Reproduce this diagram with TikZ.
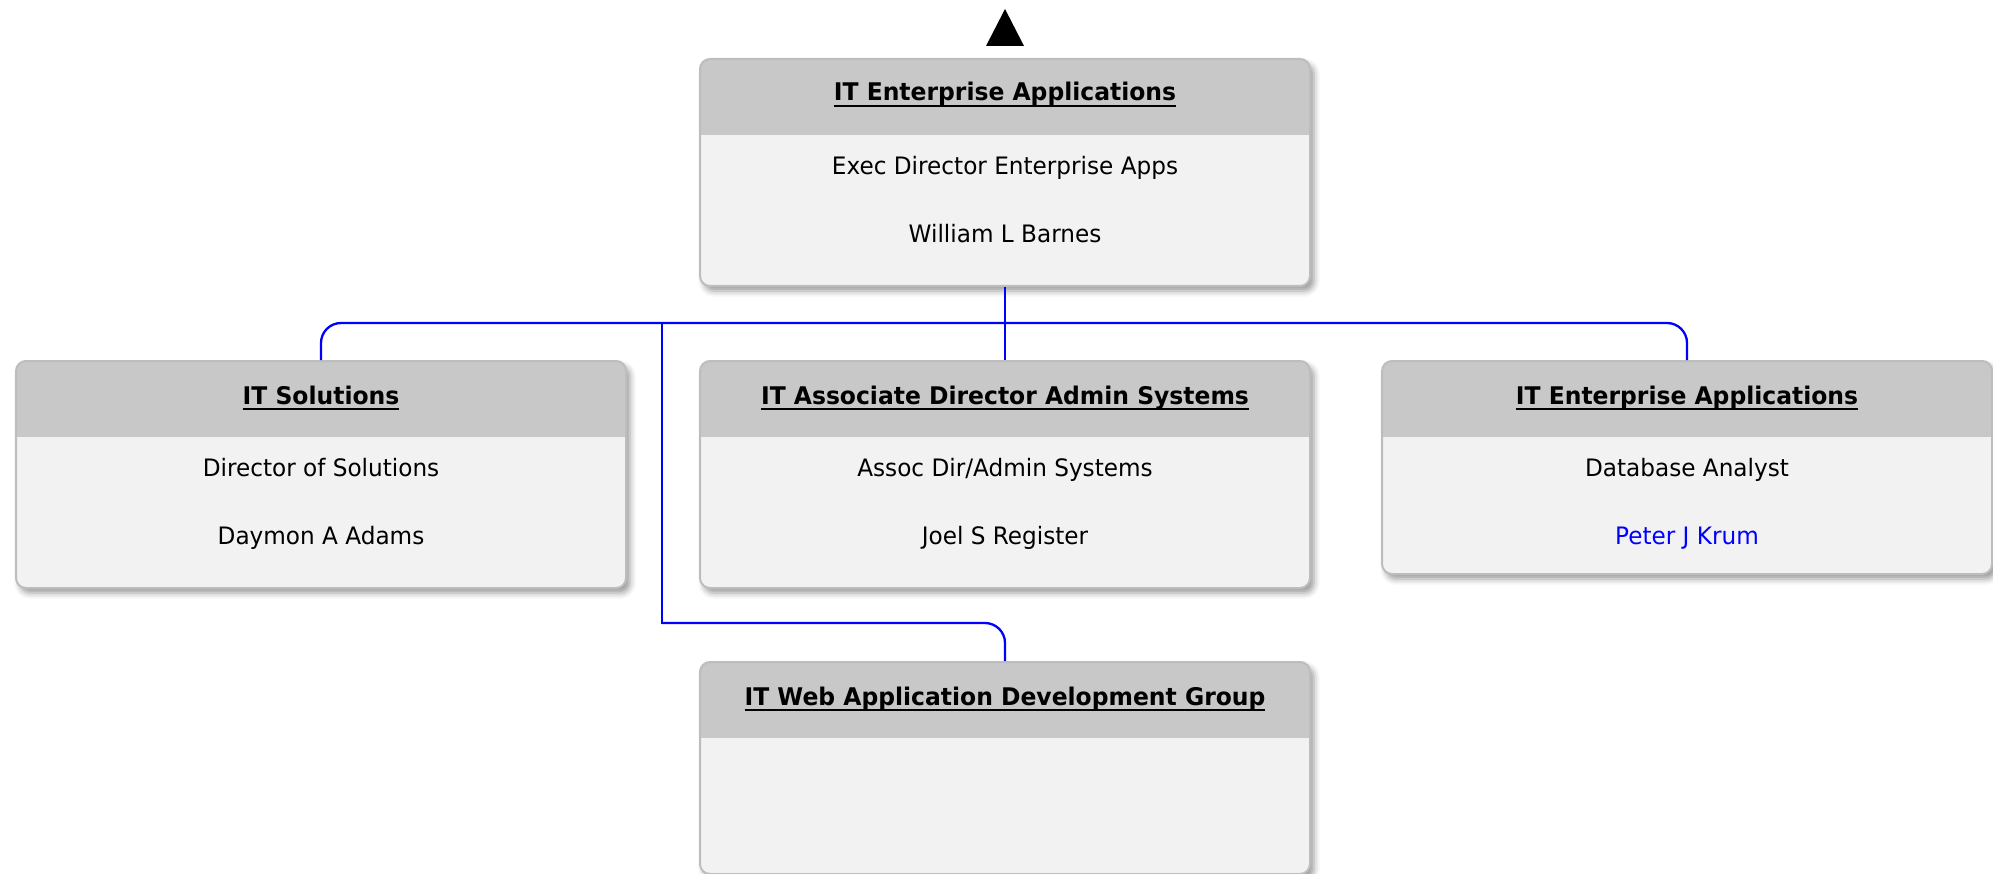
\documentclass[tikz,border=0pt]{standalone}
\usepackage{fontspec}
\setmainfont{DejaVu Sans}[FakeStretch=0.965]
\usetikzlibrary{shadows.blur}
\definecolor{hdr}{HTML}{C8C8C8}
\definecolor{bodyc}{HTML}{F2F2F2}
\definecolor{bord}{HTML}{BDBDBD}
\definecolor{linkblue}{HTML}{0000FF}
\newcommand\ulbox[1]{\setbox0\hbox{#1}\rlap{\rule[-6pt]{\wd0}{2.2pt}}\box0}
\begin{document}
\begin{tikzpicture}[x=1pt,y=-1pt,
  card/.style={draw=bord, line width=2pt, fill=bodyc, rounded corners=10pt,
    minimum width=610pt, inner sep=0pt, anchor=north,
    blur shadow={shadow xshift=4pt, shadow yshift=-5pt, shadow blur radius=6pt, shadow opacity=40},
    path picture={\fill[hdr, sharp corners] ([yshift=2pt]path picture bounding box.north west) rectangle ([yshift=-76pt]path picture bounding box.north east);}},
  ttl/.style={font=\fontsize{24.3pt}{28pt}\selectfont\bfseries, inner sep=0pt, anchor=base, text=black},
  txt/.style={font=\fontsize{24pt}{28pt}\selectfont, inner sep=0pt, anchor=base, text=black},
  conn/.style={draw=linkblue, line width=2.3pt}]
\useasboundingbox (0,0) rectangle (1993,874);
% triangle
\fill[black] (1005,9) -- (1024,46) -- (986,46) -- cycle;
% cards
\node[card, minimum height=227pt] (top) at (1005,58) {};
\node[card, minimum height=227pt] (sol) at (321,360) {};
\node[card, minimum height=227pt] (adm) at (1005,360) {};
\node[card, minimum height=213pt] (ent2) at (1687,360) {};
\node[card, minimum height=212pt] (web) at (1005,661) {};
% texts
\node[ttl] (topT) at (1005,101) {\ulbox{IT Enterprise Applications}};
\node[txt] (topA) at (1005,175) {Exec Director Enterprise Apps};
\node[txt] (topB) at (1005,243) {William L Barnes};
\node[ttl] (solT) at (321,404) {\ulbox{IT Solutions}};
\node[txt] (solA) at (321,476) {Director of Solutions};
\node[txt] (solB) at (321,544) {Daymon A Adams};
\node[ttl] (admT) at (1005,404) {\ulbox{IT Associate Director Admin Systems}};
\node[txt] (admA) at (1005,476) {Assoc Dir/Admin Systems};
\node[txt] (admB) at (1005,544) {Joel S Register};
\node[ttl] (entT) at (1687,404) {\ulbox{IT Enterprise Applications}};
\node[txt] (entA) at (1687,476) {Database Analyst};
\node[txt, text=linkblue] (entB) at (1687,544) {Peter J Krum};
\node[ttl] (webT) at (1005,705) {\ulbox{IT Web Application Development Group}};
% connectors
\coordinate (bus) at (1005,323);
\coordinate (jw) at (662,323);
\coordinate (wl) at (662,623);
\draw[conn] (top.south) -- (adm.north);
\draw[conn, rounded corners=20pt] (sol.north) |- (bus) -| (ent2.north);
\draw[conn, line cap=rect] (jw) -- (wl);
\draw[conn, rounded corners=20pt] (wl) -| (web.north);
\end{tikzpicture}
\end{document}
